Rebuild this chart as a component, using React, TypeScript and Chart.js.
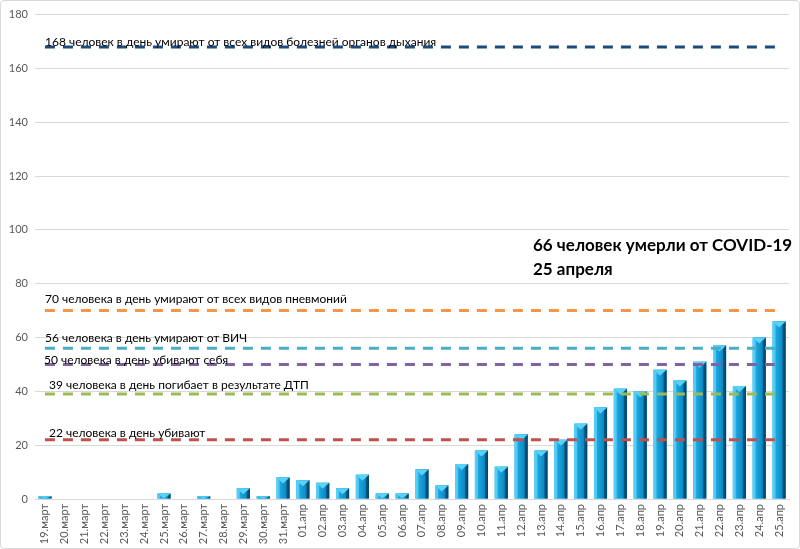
import React, { useEffect, useRef } from "react";
import { Chart, registerables } from "chart.js";

Chart.register(...registerables);

const categories: string[] = [
  "19.март", "20.март", "21.март", "22.март", "23.март", "24.март", "25.март",
  "26.март", "27.март", "28.март", "29.март", "30.март", "31.март",
  "01.апр", "02.апр", "03.апр", "04.апр", "05.апр", "06.апр", "07.апр",
  "08.апр", "09.апр", "10.апр", "11.апр", "12.апр", "13.апр", "14.апр",
  "15.апр", "16.апр", "17.апр", "18.апр", "19.апр", "20.апр", "21.апр",
  "22.апр", "23.апр", "24.апр", "25.апр",
];

const deaths: number[] = [
  1, 0, 0, 0, 0, 0, 2, 0, 1, 0, 4, 1, 8,
  7, 6, 4, 9, 2, 2, 11, 5, 13, 18, 12, 24, 18, 22,
  28, 34, 41, 40, 48, 44, 51, 57, 42, 60, 66,
];

const refValues: number[] = [168, 70, 56, 50, 39, 22];
const refLabels: string[] = [
  "168 человек в день умирают от всех видов болезней органов дыхания",
  "70 человека в день умирают от всех видов пневмоний",
  "56 человека в день умирают от ВИЧ",
  "50 человека в день убивают себя",
  "39 человека в день погибает в результате ДТП",
  "22 человека в день убивают",
];
const titleLines: string[] = ["66 человек умерли от COVID-19", "25 апреля"];

const yTicks = { min: 0, max: 180, step: 20 };

// styling (kept apart from data)
const refColors = ["#1F497D", "#F79646", "#4BACC6", "#8064A2", "#9BBB59", "#C0504D"];
const labelOffsetsY = [5, 11, 10, 4, 9, 7];
const labelOffsetsX = [10, 10, 10, 9, 14, 14];

const FONT = "Lato, 'Open Sans', sans-serif";

const bevelPlugin = {
  id: "bevel",
  afterDatasetDraw(chart: any, args: any) {
    if (args.index !== 0) return;
    const ctx = chart.ctx;
    const meta = chart.getDatasetMeta(0);
    ctx.save();
    meta.data.forEach((el: any) => {
      const { x, y, base, width } = el.getProps(["x", "y", "base", "width"], true);
      const h = base - y;
      if (h <= 0) return;
      const l = x - width / 2;
      const r = x + width / 2;
      const g = ctx.createLinearGradient(l, 0, r, 0);
      g.addColorStop(0, "#3FC4F2");
      g.addColorStop(0.25, "#1AA7E0");
      g.addColorStop(0.7, "#0E8CC6");
      g.addColorStop(1, "#075A86");
      ctx.fillStyle = g;
      ctx.fillRect(l, y, width, h);
      const bev = Math.min(3, h / 2);
      ctx.fillStyle = "rgba(120,220,255,0.55)";
      ctx.beginPath();
      ctx.moveTo(l, y);
      ctx.lineTo(l + bev, y + bev);
      ctx.lineTo(l + bev, base);
      ctx.lineTo(l, base);
      ctx.closePath();
      ctx.fill();
      ctx.fillStyle = "rgba(0,40,70,0.45)";
      ctx.beginPath();
      ctx.moveTo(r, y);
      ctx.lineTo(r - bev, y + bev);
      ctx.lineTo(r - bev, base);
      ctx.lineTo(r, base);
      ctx.closePath();
      ctx.fill();
      const cap = Math.min(6, h);
      ctx.fillStyle = "#5AD2F8";
      ctx.beginPath();
      ctx.moveTo(l, y);
      ctx.lineTo(r, y);
      ctx.lineTo(x, y + cap);
      ctx.closePath();
      ctx.fill();
    });
    ctx.restore();
  },
};

const textPlugin = {
  id: "refText",
  afterDraw(chart: any) {
    const ctx = chart.ctx;
    const ys = chart.scales.y;
    const area = chart.chartArea;
    ctx.save();
    ctx.fillStyle = "#000000";
    ctx.font = `12px ${FONT}`;
    ctx.textBaseline = "bottom";
    ctx.textAlign = "left";
    refValues.forEach((v, i) => {
      const py = ys.getPixelForValue(v);
      ctx.fillText(refLabels[i], area.left + labelOffsetsX[i], py - labelOffsetsY[i] + 6);
    });
    ctx.font = `bold 17px ${FONT}`;
    ctx.textBaseline = "middle";
    ctx.fillText(titleLines[0], 532, 245);
    ctx.fillText(titleLines[1], 532, 269);
    ctx.restore();
  },
};

export default function App() {
  const ref = useRef<HTMLCanvasElement | null>(null);

  useEffect(() => {
    document.body.style.margin = "0";
    if (!ref.current) return;
    const lineSets = refValues.map((v, i) => ({
      type: "line" as const,
      label: refLabels[i],
      data: categories.map(() => v),
      borderColor: refColors[i],
      borderWidth: 3,
      borderDash: [10, 8],
      pointRadius: 0,
      fill: false,
      order: 0,
    }));
    const chart = new Chart(ref.current, {
      type: "bar",
      data: {
        labels: categories,
        datasets: [
          {
            type: "bar",
            label: "Умерли от COVID-19",
            data: deaths,
            backgroundColor: "#1AA3DC",
            barPercentage: 0.66,
            categoryPercentage: 1,
            order: 1,
          } as any,
          ...lineSets,
        ],
      },
      options: {
        animation: false,
        responsive: false,
        maintainAspectRatio: false,
        layout: { padding: { top: 13, right: 10, left: 0, bottom: 2 } },
        plugins: {
          legend: { display: false },
          tooltip: { enabled: false },
          title: { display: false },
        },
        scales: {
          x: {
            grid: { display: false, drawTicks: false },
            border: { display: true, color: "#d9d9d9" },
            ticks: {
              minRotation: 90,
              maxRotation: 90,
              autoSkip: false,
              color: "#595959",
              font: { size: 11, family: FONT },
              padding: 5,
            },
            afterFit(scale: any) {
              scale.height = 47;
            },
          },
          y: {
            min: yTicks.min,
            max: yTicks.max,
            ticks: {
              stepSize: yTicks.step,
              color: "#595959",
              font: { size: 11, family: FONT },
              padding: 7,
            },
            grid: { color: "#d9d9d9", drawTicks: false },
            border: { display: false },
            afterFit(scale: any) {
              scale.width = 34;
            },
          },
        },
      },
      plugins: [bevelPlugin, textPlugin],
    });
    return () => chart.destroy();
  }, []);

  return (
    <div
      style={{
        width: 798,
        height: 547,
        border: "1px solid #d9d9d9",
        borderRadius: 4,
        background: "#ffffff",
        overflow: "hidden",
      }}
    >
      <canvas ref={ref} width={798} height={547} />
    </div>
  );
}
